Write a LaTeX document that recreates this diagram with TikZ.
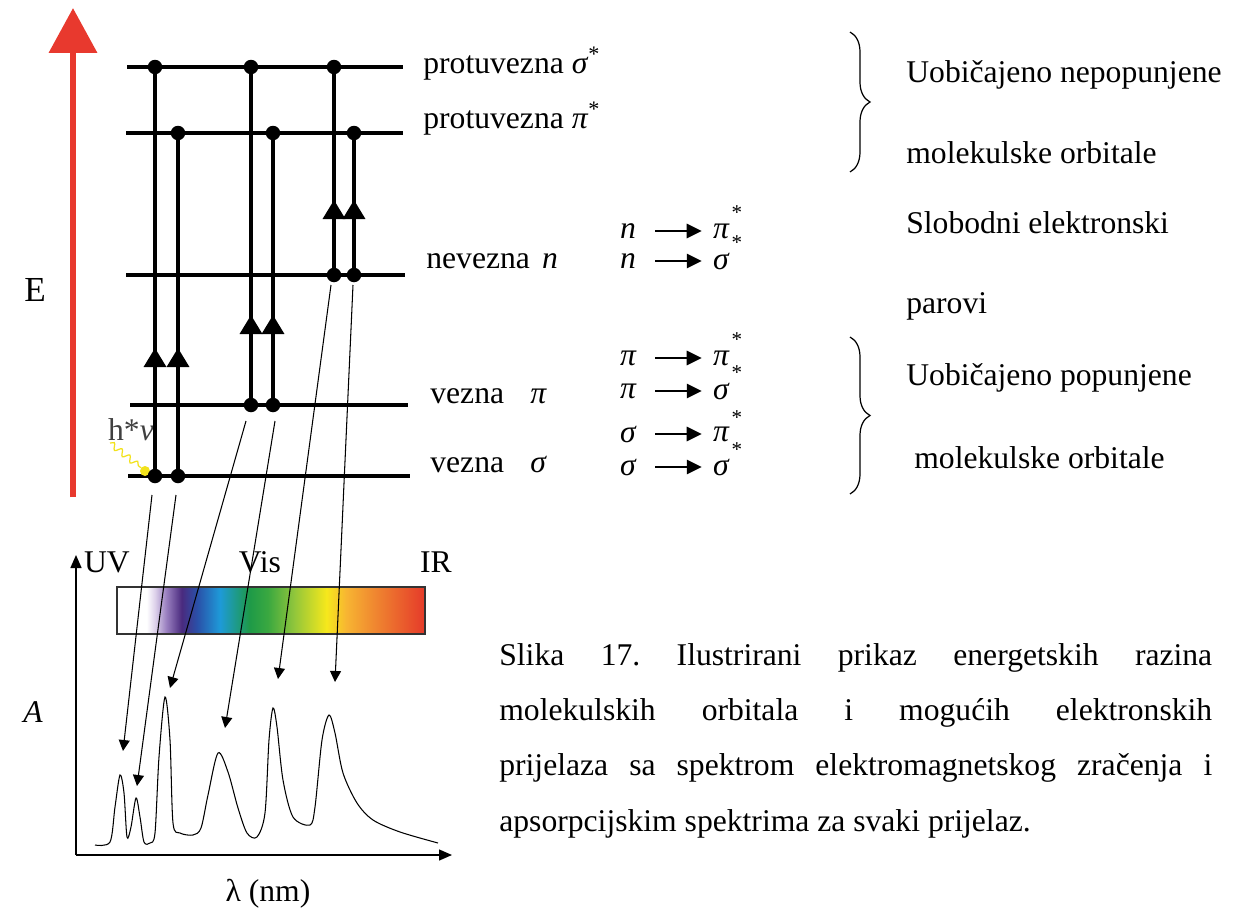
\documentclass[tikz,border=0pt]{standalone}
\usepackage{fontspec}
\setmainfont{Liberation Serif}
\usetikzlibrary{arrows.meta,positioning,decorations.pathmorphing,decorations.pathreplacing,decorations.markings}
\definecolor{EnRed}{HTML}{E8392E}
\definecolor{PhotonYellow}{HTML}{F2E21C}
\definecolor{SpLav}{HTML}{DCD0EA}
\definecolor{SpViolet}{HTML}{9A80C0}
\definecolor{SpPurple}{HTML}{4A2A7E}
\definecolor{SpBlue}{HTML}{2A50A8}
\definecolor{SpCyan}{HTML}{1E9AD8}
\definecolor{SpGreen}{HTML}{1E9A48}
\definecolor{SpGreenB}{HTML}{3AA840}
\definecolor{SpLime}{HTML}{8CC43C}
\definecolor{SpYellow}{HTML}{F6E81C}
\definecolor{SpAmber}{HTML}{F7B532}
\definecolor{SpOrange}{HTML}{F08A30}
\definecolor{SpRed}{HTML}{E53A2A}
\pgfdeclarehorizontalshading{visspec}{100bp}{color(0bp)=(white); color(29.8bp)=(white);
  color(31.2bp)=(SpLav); color(33bp)=(SpViolet); color(35.5bp)=(SpPurple);
  color(38bp)=(SpBlue); color(41.7bp)=(SpCyan); color(46.5bp)=(SpGreen);
  color(49.5bp)=(SpGreenB); color(53.5bp)=(SpLime); color(59bp)=(SpYellow);
  color(62.2bp)=(SpAmber); color(66.5bp)=(SpOrange); color(75bp)=(SpRed); color(100bp)=(SpRed)}
\frenchspacing

\begin{document}
\begin{tikzpicture}[x=0.02cm, y=-0.02cm,
  txt/.style={font=\fontsize{18}{22}\selectfont, inner sep=0pt},
  sym/.style={font=\fontsize{18}{22}\selectfont\itshape, inner sep=0pt},
  star/.style={font=\fontsize{12}{14}\selectfont, inner sep=0pt},
  level/.style={line width=2pt},
  dot/.style={circle, fill=black, inner sep=0pt, minimum size=0.29cm},
  trans/.style={line width=2pt},
  uptip/.style={postaction={decorate}, decoration={markings,
    mark=at position #1 with {\arrow{Triangle[length=0.38cm,width=0.44cm]}}}},
  peakarrow/.style={line width=0.6pt, -{Triangle[length=0.22cm,width=0.22cm]}},
  jump/.style={line width=1.6pt, -{Triangle[length=0.3cm,width=0.28cm]},
    shorten <=0.38cm, shorten >=0.22cm},
  axis/.style={line width=0.8pt, -{Triangle[length=0.26cm,width=0.22cm]}},
  bracket/.style={line width=0.7pt, decorate, decoration={brace, amplitude=0.4cm}}]
  \useasboundingbox (0,0) rectangle (1238,916);
  \fill[white] (0,0) rectangle (1238,916);

  % energy axis
  \coordinate (ebot) at (73,497);
  \coordinate (etop) at (73,8);
  \draw[EnRed, line width=0.14cm, -{Triangle[length=0.9cm,width=0.94cm]}] (ebot) -- (etop);
  \node[txt, font=\fontsize{20}{24}\selectfont] (E) at (35,290) {E};

  % levels
  \foreach \nm/\y/\xa/\xb in {ss/67/127/403, pp/133/126/403, nn/275/126/405, p/405/130/408, s/476/128/410} {
    \coordinate (\nm-l) at (\xa,\y);
    \coordinate (\nm-r) at (\xb,\y);
    \draw[level] (\nm-l) -- (\nm-r);
  }
  \node[txt, anchor=base west] (Lss) at (423,73) {protuvezna \textit{σ}\textsuperscript{*}};
  \node[txt, anchor=base west] (Lpp) at (423,128) {protuvezna \textit{π}\textsuperscript{*}};
  \node[txt, anchor=base west] (Lnn) at (426,268) {nevezna\hspace{7pt}\textit{n}};
  \node[txt, anchor=base west] (Lp) at (430,403) {vezna\hspace{15pt}\textit{π}};
  \node[txt, anchor=base west] (Ls) at (430,472) {vezna\hspace{15pt}\textit{σ}};

  % photon
  \coordinate (hv) at (110,443);
  \node[txt, text=black!75, anchor=base] (hnu) at (131,440) {h*\textit{ν}};
  \node[circle, fill=PhotonYellow, inner sep=0pt, minimum size=0.2cm] (ph) at (145,471) {};
  \draw[PhotonYellow, line width=0.7pt, decorate,
    decoration={snake, amplitude=0.06cm, segment length=0.2cm}] (hv) -- (ph);

  % dots and transitions
  \node[dot] (ds1) at (155,476) {};
  \node[dot] (ds2) at (178,476) {};
  \node[dot] (dp1) at (251,405) {};
  \node[dot] (dp2) at (273,405) {};
  \node[dot] (dn1) at (334,275) {};
  \node[dot] (dn2) at (354,275) {};
  \node[dot] (us1) at (155,67) {};
  \node[dot] (us2) at (178,133) {};
  \node[dot] (up1) at (251,67) {};
  \node[dot] (up2) at (273,133) {};
  \node[dot] (un1) at (334,67) {};
  \node[dot] (un2) at (354,133) {};
  \draw[trans, uptip=2.56cm] (ds1.center) -- (us1.center);
  \draw[trans, uptip=2.56cm] (ds2.center) -- (us2.center);
  \draw[trans, uptip=1.8cm] (dp1.center) -- (up1.center);
  \draw[trans, uptip=1.8cm] (dp2.center) -- (up2.center);
  \draw[trans, uptip=1.5cm] (dn1.center) -- (un1.center);
  \draw[trans, uptip=1.5cm] (dn2.center) -- (un2.center);

  % transitions list
  \foreach \i/\a/\b/\y/\sy in {1/n/π/231/213, 2/n/σ/261/243, 3/π/π/358/340,
      4/π/σ/391/373, 5/σ/π/434/418, 6/σ/σ/467/450} {
    \node[sym] (src\i) at (628,\y) {\a};
    \node[sym] (dst\i) at (721,\y) {\b};
    \node[star] (st\i) at (737,\sy) {*};
    \draw[jump] (src\i) -- (dst\i);
  }

  % braces
  \coordinate (b1t) at (850,32);
  \coordinate (b1b) at (850,172);
  \coordinate (b2t) at (850,337);
  \coordinate (b2b) at (850,494);
  \draw[bracket] (b1t) -- (b1b);
  \draw[bracket] (b2t) -- (b2b);
  \node[txt, anchor=base west] (g1) at (906,82) {Uobičajeno nepopunjene};
  \node[txt, anchor=base west] (g2) at (906,163) {molekulske orbitale};
  \node[txt, anchor=base west] (g3) at (906,233) {Slobodni elektronski};
  \node[txt, anchor=base west] (g4) at (906,313) {parovi};
  \node[txt, anchor=base west] (g5) at (906,385) {Uobičajeno popunjene};
  \node[txt, anchor=base west] (g6) at (914,468) {molekulske orbitale};

  % spectrum
  \coordinate (orig) at (76,855);
  \coordinate (ytop) at (76,555);
  \coordinate (xend) at (452,855);
  \draw[axis] (orig) -- (ytop);
  \draw[axis] (orig) -- (xend);
  \node[txt, anchor=base] (uv) at (107,572) {UV};
  \node[txt, anchor=base] (vis) at (260,572) {Vis};
  \node[txt, anchor=base] (ir) at (436,572) {IR};
  \node[txt, font=\fontsize{18}{22}\selectfont\itshape] (ax) at (33,712) {A};
  \node[txt, anchor=base] (lam) at (268,901) {λ (nm)};
  \shade[shading=visspec] (117,587) rectangle (425,634);
  \draw[line width=0.6pt, black!80] (117,587) rectangle (425,634);
  \draw[line width=0.6pt] plot[smooth, tension=0.5] coordinates {(95,845) (110,842)
    (115,807) (120,775) (124,793) (127,837) (131,827) (136,798) (140,817) (144,842)
    (150,843) (155,833) (159,757) (165,697) (170,740) (173,823) (180,833) (193,835)
    (201,828) (208,795) (218,753) (228,772) (238,808) (247,833) (257,837) (265,813)
    (269,740) (273,708) (277,727) (283,780) (293,817) (310,825) (315,807) (322,740)
    (329,715) (335,733) (343,773) (357,803) (373,820) (400,832) (438,843)};

  % level-to-peak arrows
  \foreach \i/\xa/\ya/\xb/\yb in {1/152/495/123/751, 2/176/495/137/786, 3/246/421/170/688,
      4/275/421/225/728, 5/331/285/278/679, 6/353/285/335/682} {
    \coordinate (from\i) at (\xa,\ya);
    \coordinate (pk\i) at (\xb,\yb);
    \draw[peakarrow] (from\i) -- (pk\i);
  }

  % caption
  \node[txt, anchor=north west, text width=14.26cm, align=justify,
    font=\fontsize{18}{31.5}\selectfont] (cap) at (499,643) {\hyphenpenalty=10000
    Slika 17. Ilustrirani prikaz energetskih razina\linebreak
    molekulskih orbitala i mogućih elektronskih\linebreak
    prijelaza sa spektrom elektromagnetskog zračenja i\linebreak
    apsorpcijskim spektrima za svaki prijelaz.};
\end{tikzpicture}
\end{document}
